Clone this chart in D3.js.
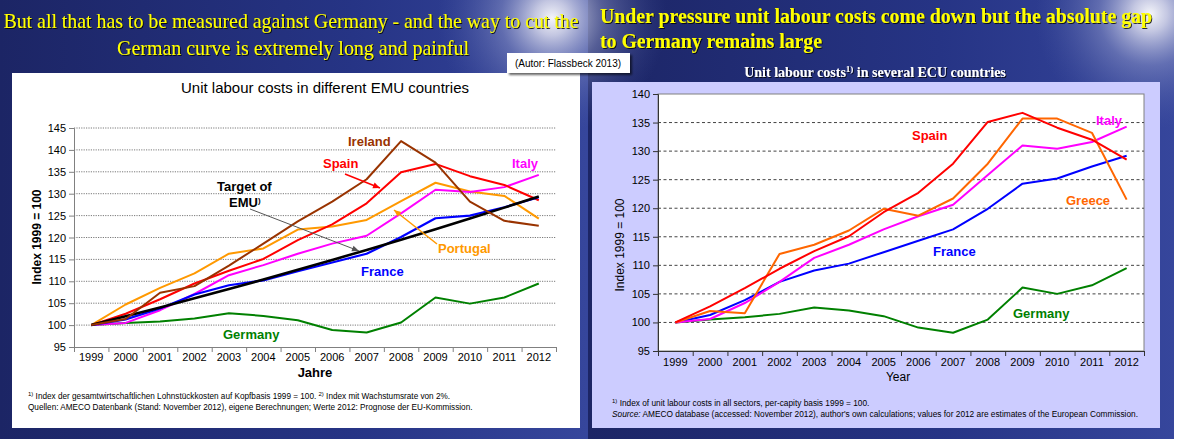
<!DOCTYPE html>
<html><head><meta charset="utf-8">
<script src="https://cdn.jsdelivr.net/npm/d3@7"></script>
<style>body{margin:0;background:#fff;overflow:hidden}svg{display:block}</style>
</head><body>
<svg id="c" width="1200" height="439"></svg>
<script>
// ---------- DATA ----------
const years = [1999,2000,2001,2002,2003,2004,2005,2006,2007,2008,2009,2010,2011,2012];
const leftTicks = [95,100,105,110,115,120,125,130,135,140,145];
const rightTicks = [95,100,105,110,115,120,125,130,135,140];

// Left chart (EMU countries)
const leftGermany  = [100,100.5,100.8,101.5,102.7,102.1,101.1,98.9,98.3,100.6,106.3,104.9,106.3,109.5];
const leftFrance   = [100,101.3,103.8,107.0,109.1,110.2,112.3,114.3,116.3,120.1,124.4,125.0,126.9,129.2];
const leftItaly    = [100,100.5,103.4,107.1,111.4,113.7,116.3,118.6,120.4,125.5,130.9,130.4,131.5,134.3];
const leftPortugal = [100,104.7,108.5,111.8,116.3,117.5,121.8,122.5,124.0,128.3,132.5,130.5,129.5,124.3];
const leftSpain    = [100,102.6,105.9,109.5,112.4,115.1,119.4,123.0,127.8,134.9,136.8,134.0,132.0,128.5];
const leftIreland  = [100,101.4,107.4,108.9,113.6,118.6,123.7,128.2,133.3,142.0,137.1,128.2,123.8,122.7];
const leftTarget   = [100,102.0,104.04,106.12,108.24,110.41,112.62,114.87,117.17,119.51,121.9,124.34,126.82,129.36];

// Right chart (ECU countries)
const rightGermany = [100,100.5,100.9,101.5,102.6,102.1,101.1,99.1,98.2,100.5,106.1,105.0,106.5,109.5];
const rightFrance  = [100,101.3,103.9,107.1,109.1,110.3,112.3,114.3,116.3,119.9,124.3,125.2,127.3,129.2];
const rightItaly   = [100,100.6,103.4,107.1,111.3,113.6,116.3,118.6,120.6,125.8,131.0,130.4,131.6,134.3];
const rightGreece  = [100,102.0,101.6,112.0,113.6,116.1,119.9,118.7,121.7,127.8,135.7,135.7,133.2,121.5];
const rightSpain   = [100,102.8,106.0,109.4,112.5,115.1,119.3,122.7,127.8,135.1,136.7,134.1,132.0,128.5];

// ---------- DRAW ----------
const svg = d3.select("#c");
const defs = svg.append("defs");
const SANS = "'Liberation Sans', Arial, sans-serif";
const SERIF = "'Liberation Serif', 'Times New Roman', serif";

const bg = defs.append("linearGradient").attr("id","navy").attr("x1",0).attr("y1",0).attr("x2",1).attr("y2",0);
bg.append("stop").attr("offset","0%").attr("stop-color","#1c2565");
bg.append("stop").attr("offset","60%").attr("stop-color","#263485");
bg.append("stop").attr("offset","100%").attr("stop-color","#36469c");
const glow = defs.append("radialGradient").attr("id","glow");
glow.append("stop").attr("offset","0%").attr("stop-color","#ffffff").attr("stop-opacity",0.95);
glow.append("stop").attr("offset","15%").attr("stop-color","#e8e8f4").attr("stop-opacity",0.8);
glow.append("stop").attr("offset","45%").attr("stop-color","#9aa2d0").attr("stop-opacity",0.45);
glow.append("stop").attr("offset","100%").attr("stop-color","#5060a8").attr("stop-opacity",0);
const shadow = defs.append("filter").attr("id","sh").attr("x","-10%").attr("y","-30%").attr("width","130%").attr("height","170%");
shadow.append("feDropShadow").attr("dx",1).attr("dy",1).attr("stdDeviation",0.6).attr("flood-color","#000").attr("flood-opacity",0.8);
const boxsh = defs.append("filter").attr("id","bsh").attr("x","-10%").attr("y","-20%").attr("width","130%").attr("height","160%");
boxsh.append("feDropShadow").attr("dx",2).attr("dy",2).attr("stdDeviation",1.2).attr("flood-color","#000").attr("flood-opacity",0.6);

// slides
svg.append("rect").attr("x",0).attr("y",0).attr("width",588).attr("height",439).attr("fill","url(#navy)");
svg.append("rect").attr("x",588).attr("y",0).attr("width",586).attr("height",439).attr("fill","url(#navy)");
svg.append("circle").attr("cx",552).attr("cy",18).attr("r",115).attr("fill","url(#glow)");
svg.append("circle").attr("cx",1150).attr("cy",14).attr("r",115).attr("fill","url(#glow)");
svg.append("rect").attr("x",1174).attr("y",0).attr("width",26).attr("height",439).attr("fill","#ffffff");

// titles
function fitText(x,y,txt,size,len,opts){
  const t = svg.append("text").attr("x",x).attr("y",y).text(txt)
    .attr("font-family",opts.family||SERIF).attr("font-size",size)
    .attr("font-weight",opts.weight||"normal").attr("fill",opts.fill||"#000")
    .attr("text-anchor",opts.anchor||"start");
  if(len){t.attr("textLength",len).attr("lengthAdjust","spacingAndGlyphs");}
  if(opts.filter) t.attr("filter",opts.filter);
  return t;
}
fitText(291,28,"But all that has to be measured against Germany - and the way to cut the",21,575,{fill:"#ffff00",anchor:"middle",filter:"url(#sh)"});
fitText(293,55,"German curve is extremely long and painful",21,352,{fill:"#ffff00",anchor:"middle",filter:"url(#sh)"});
fitText(600,23,"Under pressure unit labour costs come down but the absolute gap",20,552,{fill:"#ffff00",weight:"bold",filter:"url(#sh)"});
fitText(600,48,"to Germany remains large",20,222,{fill:"#ffff00",weight:"bold",filter:"url(#sh)"});

// ============ LEFT CHART ============
svg.append("rect").attr("x",12).attr("y",73).attr("width",568).attr("height",355).attr("fill","#ffffff");
fitText(325,93,"Unit labour costs in different EMU countries",15,288,{family:SANS,anchor:"middle"});

const Lx = d3.scaleBand().domain(years).range([74,556]);
const Lxp = d => Lx(d) + Lx.bandwidth()/2;
const Ly = d3.scaleLinear().domain([95,145]).range([347,128]);

const lg = svg.append("g");
lg.selectAll("line.grid").data(leftTicks.filter(v=>v>95)).join("line")
  .attr("x1",74).attr("x2",556).attr("y1",d=>Ly(d)).attr("y2",d=>Ly(d))
  .attr("stroke","#7a7a7a").attr("stroke-width",1).attr("stroke-dasharray","1.2,1.2");

const lya = lg.append("g").attr("transform","translate(74,0)")
  .call(d3.axisLeft(Ly).tickValues(leftTicks).tickSize(5).tickPadding(3));
lya.selectAll("path,line").attr("stroke","#808080");
lya.selectAll("text").attr("font-family",SANS).attr("font-size",11).attr("fill","#000");

const Lxl = d3.scaleLinear().domain([0,14]).range([74,556]);
const lxa = lg.append("g").attr("transform","translate(0,347)")
  .call(d3.axisBottom(Lxl).tickValues(d3.range(0,15)).tickSize(5).tickFormat(""));
lxa.selectAll("path,line").attr("stroke","#808080");
const lxl = lg.append("g").attr("transform","translate(0,347)")
  .call(d3.axisBottom(Lx).tickSize(0).tickPadding(6));
lxl.select("path").remove();
lxl.selectAll("text").attr("font-family",SANS).attr("font-size",11).attr("fill","#000");

lg.append("text").attr("transform","translate(41,237) rotate(-90)").attr("text-anchor","middle")
  .attr("font-family",SANS).attr("font-size",12).attr("font-weight","bold").text("Index 1999 = 100");
lg.append("text").attr("x",315).attr("y",377).attr("text-anchor","middle")
  .attr("font-family",SANS).attr("font-size",13).attr("font-weight","bold").text("Jahre");

const lline = d3.line().x((d,i)=>Lxp(years[i])).y(d=>Ly(d));
const leftSeries = [
  {v:leftGermany,c:"#008000",w:2},
  {v:leftPortugal,c:"#ff9900",w:2},
  {v:leftItaly,c:"#ff00ff",w:2},
  {v:leftSpain,c:"#ff0000",w:2},
  {v:leftFrance,c:"#0000ff",w:2.2},
  {v:leftTarget,c:"#000000",w:2.6},
  {v:leftIreland,c:"#993300",w:2}
];
lg.selectAll("path.s").data(leftSeries).join("path").attr("class","s")
  .attr("d",d=>lline(d.v)).attr("fill","none").attr("stroke",d=>d.c).attr("stroke-width",d=>d.w)
  .attr("stroke-linejoin","round");

// arrows
function arrow(g,x1,y1,x2,y2,col,w){
  g.append("line").attr("x1",x1).attr("y1",y1).attr("x2",x2).attr("y2",y2).attr("stroke",col).attr("stroke-width",w);
  const a = Math.atan2(y2-y1,x2-x1), L=7, H=3;
  const p = [[x2,y2],[x2-L*Math.cos(a)+H*Math.sin(a), y2-L*Math.sin(a)-H*Math.cos(a)],
             [x2-L*Math.cos(a)-H*Math.sin(a), y2-L*Math.sin(a)+H*Math.cos(a)]];
  g.append("polygon").attr("points",p.map(q=>q.join(",")).join(" ")).attr("fill",col);
}
arrow(lg,345,174,380,188,"#ff0000",1.5);
arrow(lg,437,244,394,210,"#ff9900",1.5);
arrow(lg,250,209,359,251,"#555555",1);

function lab(g,x,y,txt,col){
  return g.append("text").attr("x",x).attr("y",y).text(txt).attr("fill",col)
    .attr("font-family",SANS).attr("font-size",13).attr("font-weight","bold");
}
lab(lg,348,146,"Ireland","#993300");
lab(lg,323,168,"Spain","#ff0000");
lab(lg,512,168,"Italy","#ff00ff");
lab(lg,438,253,"Portugal","#ff9900");
lab(lg,361,276,"France","#0000ff");
lab(lg,223,339,"Germany","#008000");
lab(lg,217,191,"Target of","#000");
const emu = lab(lg,229,207,"EMU","#000");
emu.append("tspan").attr("font-size",8).attr("dy",-4).text(")");

const lf = lg.append("g").attr("font-family",SANS).attr("font-size",8.2).attr("fill","#000");
const lf1 = lf.append("text").attr("x",28).attr("y",399);
lf1.append("tspan").attr("font-size",6).attr("dy",-3).text("1)");
lf1.append("tspan").attr("dy",3).text(" Index der gesamtwirtschaftlichen Lohnstückkosten auf Kopfbasis 1999 = 100. ");
lf1.append("tspan").attr("font-size",6).attr("dy",-3).text("2)");
lf1.append("tspan").attr("dy",3).text(" Index mit Wachstumsrate von 2%.");
lf.append("text").attr("x",28).attr("y",410).text("Quellen: AMECO Datenbank (Stand: November  2012), eigene Berechnungen;  Werte 2012: Prognose der EU-Kommission.");

// author box
svg.append("rect").attr("x",507).attr("y",53).attr("width",123).attr("height",20).attr("fill","#fff").attr("filter","url(#bsh)");
svg.append("text").attr("x",568).attr("y",67).attr("text-anchor","middle").attr("font-family",SANS).attr("font-size",10)
  .text("(Autor: Flassbeck 2013)");

// ============ RIGHT CHART ============
const rt = svg.append("text").attr("x",875).attr("y",77).attr("text-anchor","middle")
  .attr("font-family",SERIF).attr("font-size",14).attr("font-weight","bold").attr("fill","#ffffff").attr("filter","url(#sh)");
rt.append("tspan").text("Unit labour costs");
rt.append("tspan").attr("font-size",9).attr("dy",-5).text("1)");
rt.append("tspan").attr("dy",5).text(" in several ECU countries");

svg.append("rect").attr("x",592).attr("y",82).attr("width",568).attr("height",346).attr("fill","#ccccff");
const rg = svg.append("g");
rg.append("rect").attr("x",658).attr("y",94).attr("width",486).attr("height",257).attr("fill","#fff").attr("stroke","#808080");

const Rx = d3.scaleBand().domain(years).range([658,1144]);
const Rxp = d => Rx(d) + Rx.bandwidth()/2;
const Ry = d3.scaleLinear().domain([95,140]).range([351,94]);

rg.selectAll("line.grid").data(rightTicks.filter(v=>v>95 && v<140)).join("line")
  .attr("x1",658).attr("x2",1144).attr("y1",d=>Ry(d)).attr("y2",d=>Ry(d))
  .attr("stroke","#444").attr("stroke-width",1).attr("stroke-dasharray","3,2.5");

const rya = rg.append("g").attr("transform","translate(658,0)")
  .call(d3.axisLeft(Ry).tickValues(rightTicks).tickSize(5).tickPadding(3));
rya.selectAll("path,line").attr("stroke","#333");
rya.selectAll("text").attr("font-family",SANS).attr("font-size",11).attr("fill","#000");

const Rxl = d3.scaleLinear().domain([0,14]).range([658,1144]);
const rxa = rg.append("g").attr("transform","translate(0,351)")
  .call(d3.axisBottom(Rxl).tickValues(d3.range(0,15)).tickSize(5).tickFormat(""));
rxa.selectAll("path,line").attr("stroke","#333");
const rxl = rg.append("g").attr("transform","translate(0,351)")
  .call(d3.axisBottom(Rx).tickSize(0).tickPadding(7));
rxl.select("path").remove();
rxl.selectAll("text").attr("font-family",SANS).attr("font-size",11).attr("fill","#000");

rg.append("text").attr("transform","translate(624,245) rotate(-90)").attr("text-anchor","middle")
  .attr("font-family",SANS).attr("font-size",12).text("Index 1999 = 100");
rg.append("text").attr("x",898).attr("y",381).attr("text-anchor","middle")
  .attr("font-family",SANS).attr("font-size",12).text("Year");

const rline = d3.line().x((d,i)=>Rxp(years[i])).y(d=>Ry(d));
const rightSeries = [
  {v:rightGermany,c:"#008000"},
  {v:rightFrance,c:"#0000ff"},
  {v:rightItaly,c:"#ff00ff"},
  {v:rightGreece,c:"#ff6600"},
  {v:rightSpain,c:"#ff0000"}
];
rg.selectAll("path.s").data(rightSeries).join("path").attr("class","s")
  .attr("d",d=>rline(d.v)).attr("fill","none").attr("stroke",d=>d.c).attr("stroke-width",2)
  .attr("stroke-linejoin","round");

lab(rg,912,140,"Spain","#ff0000");
lab(rg,1096,125,"Italy","#ff00ff");
lab(rg,1066,205,"Greece","#ff6600");
lab(rg,933,256,"France","#0000ff");
lab(rg,1013,318,"Germany","#008000");

const rf = rg.append("g").attr("font-family",SANS).attr("font-size",8.3).attr("fill","#000");
const rf1 = rf.append("text").attr("x",612).attr("y",406);
rf1.append("tspan").attr("font-size",6).attr("dy",-3).text("1)");
rf1.append("tspan").attr("dy",3).text(" Index of unit labour costs in all sectors, per-capity basis 1999 = 100.");
const rf2 = rf.append("text").attr("x",612).attr("y",417);
rf2.append("tspan").attr("font-style","italic").text("Source:");
rf2.append("tspan").text(" AMECO database (accessed: November  2012), author's own calculations; values for 2012 are estimates of the European Commission.");
</script>
</body></html>
